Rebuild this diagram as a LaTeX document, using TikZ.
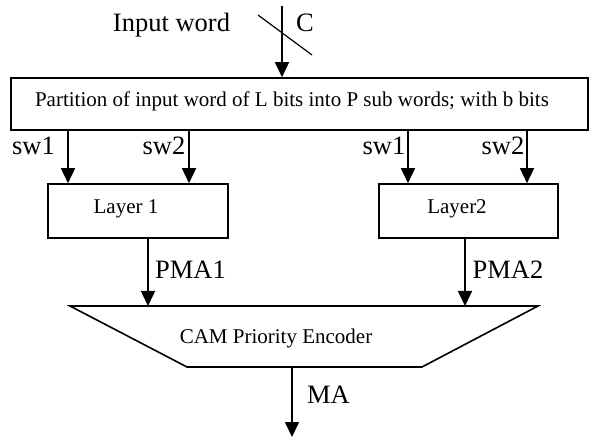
\documentclass[tikz,border=0pt]{standalone}
\usepackage{fontspec}
\setmainfont{Liberation Serif}
\usetikzlibrary{arrows.meta}
\begin{document}
\begin{tikzpicture}[x=1pt,y=-1pt,
  line width=1.6pt,
  arr/.style={-{Triangle[width=14pt,length=15pt]}},
  box/.style={draw,rectangle,inner sep=0pt},
  big/.style={font=\fontsize{26.5}{31}\selectfont,inner sep=0pt,anchor=base},
  small/.style={font=\fontsize{21}{25}\selectfont,inner sep=0pt,anchor=base}]
\useasboundingbox (0,0) rectangle (592,438);
% nodes
\node[box,minimum width=577pt,minimum height=52pt] (part) at (299.5,104) {};
\node[small] (parttxt) at (292,107) {Partition of input word of L bits into P sub words; with b bits};
\node[box,minimum width=180pt,minimum height=54pt] (l1) at (138,211) {};
\node[small] (l1txt) at (126,214) {Layer 1};
\node[box,minimum width=179pt,minimum height=54pt] (l2) at (468.5,211) {};
\node[small] (l2txt) at (457,214) {Layer2};
% trapezoid
\draw (70,306) coordinate (camtl) -- (538,306) coordinate (camtr) -- (422,367) -- (187,367) -- cycle;
\coordinate (cambot) at (292,367);
\node[small] (cam) at (276,344) {CAM Priority Encoder};
% labels
\node[big] (inw) at (171.5,32) {Input word};
\node[big] (c) at (305,32) {C};
\node[big] (sw1a) at (33.5,155) {sw1};
\node[big] (sw2a) at (164,155) {sw2};
\node[big] (sw1b) at (384,155) {sw1};
\node[big] (sw2b) at (503,155) {sw2};
\node[big] (pma1) at (190.5,279) {PMA1};
\node[big] (pma2) at (508,279) {PMA2};
\node[big] (ma) at (328.5,403) {MA};
% input arrow
\coordinate (in) at (282,6);
\draw[arr] (in) -- (part.north -| in);
\draw[line width=1.2pt] (258,15) -- (312,55);
% sub-word arrows
\draw[arr] (part.south -| 68,0) -- (l1.north -| 68,0);
\draw[arr] (part.south -| 189,0) -- (l1.north -| 189,0);
\draw[arr] (part.south -| 408,0) -- (l2.north -| 408,0);
\draw[arr] (part.south -| 527,0) -- (l2.north -| 527,0);
% PMA arrows
\draw[arr] (l1.south -| 148,0) -- (camtl -| 148,0);
\draw[arr] (l2.south -| 465,0) -- (camtl -| 465,0);
% output
\coordinate (out) at (292,437);
\draw[arr] (cambot) -- (out);
\end{tikzpicture}
\end{document}
